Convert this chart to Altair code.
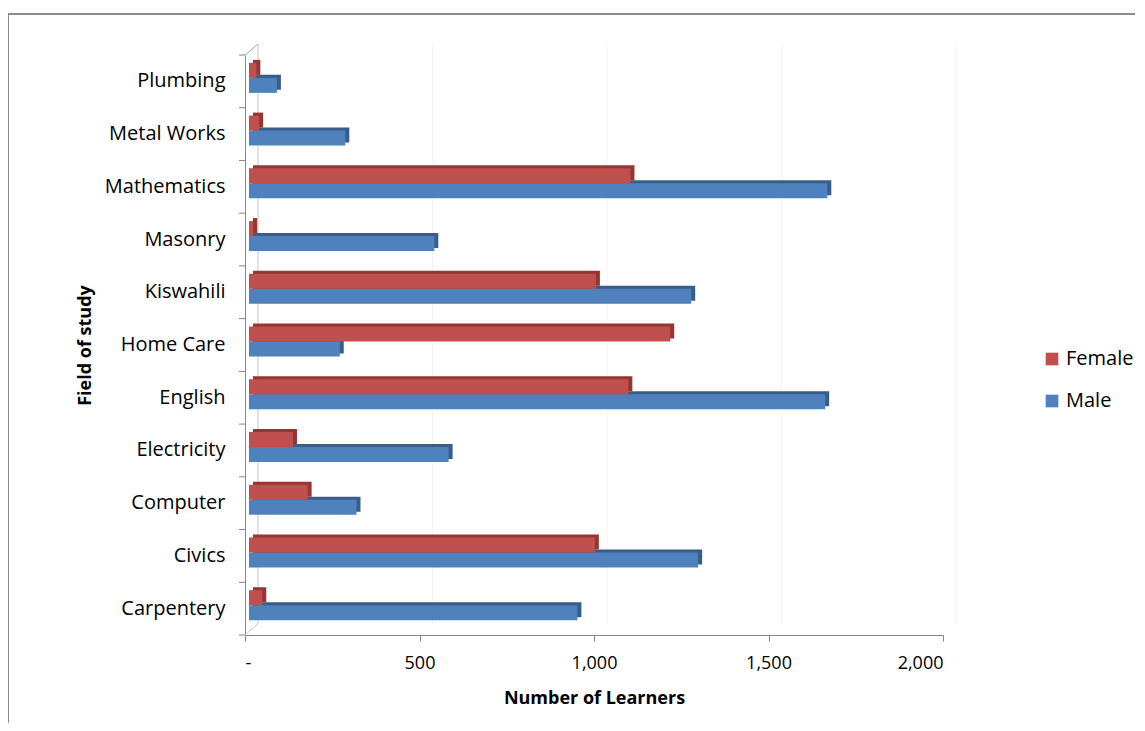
import altair as alt
import pandas as pd

categories = ["Plumbing", "Metal Works", "Mathematics", "Masonry", "Kiswahili",
              "Home Care", "English", "Electricity", "Computer", "Civics", "Carpentery"]
female = [21, 29, 1093, 12, 994, 1207, 1087, 126, 168, 991, 38]
male = [80, 276, 1657, 531, 1267, 260, 1651, 572, 308, 1287, 941]
x_ticks = [0, 500, 1000, 1500, 2000]
genders = ["Female", "Male"]

rows = []
for c, f, m in zip(categories, female, male):
    rows.append({"field": c, "gender": "Female", "learners": f})
    rows.append({"field": c, "gender": "Male", "learners": m})
df = pd.DataFrame(rows)
ticks_df = pd.DataFrame({"v": x_ticks})
cat_df = pd.DataFrame({"field": categories})
one = pd.DataFrame({"a": [0]})

FONT = "Open Sans"
W, H = 698, 580
AX = "#868686"

xscale = alt.Scale(domain=[0, 2000], nice=False, zero=True)
yscale = alt.Scale(domain=categories, paddingInner=0, paddingOuter=0)
color_scale = alt.Scale(domain=genders, range=["#C0504D", "#4F81BD"])
dark = {"Female": "#943634", "Male": "#385D8A"}

x_axis = alt.Axis(values=x_ticks, title="Number of Learners",
                  labelExpr="datum.value == 0 ? '-' : format(datum.value, ',')",
                  grid=False, domainColor=AX, tickColor=AX, tickSize=6,
                  labelFont=FONT, labelFontSize=18, labelColor="#000000", labelPadding=13,
                  titleFont=FONT, titleFontSize=18, titleFontWeight="bold", titleColor="#000000",
                  titleX=349, titleY=63, titleBaseline="middle")
y_axis = alt.Axis(title="Field of study", ticks=False, grid=False, domainColor=AX,
                  labelFont=FONT, labelFontSize=20, labelColor="#000000", labelPadding=20,
                  titleFont=FONT, titleFontSize=18, titleFontWeight="bold", titleColor="#000000",
                  titleX=-160, titleY=290, titleAngle=-90, titleAlign="center",
                  titleBaseline="middle")
legend = alt.Legend(title=None, orient="none", legendX=797, legendY=294,
                    symbolType="square", symbolSize=160, symbolStrokeWidth=0,
                    labelFont=FONT, labelFontSize=20, labelColor="#000000",
                    rowPadding=22, labelOffset=4, padding=0)


def bars(g, front):
    sub = df[df.gender == g]
    yo = -11 if g == "Female" else 4
    if front:
        mk = alt.Chart(sub).mark_bar(height=15, xOffset=4, x2Offset=4, yOffset=yo)
        col = alt.Color("gender:N", scale=color_scale, legend=legend)
    else:
        mk = alt.Chart(sub).mark_bar(height=15, xOffset=8, x2Offset=8, yOffset=yo - 3)
        col = alt.value(dark[g])
    return mk.encode(
        x=alt.X("learners:Q", scale=xscale, axis=x_axis),
        y=alt.Y("field:N", scale=yscale, axis=y_axis, sort=categories),
        color=col,
    )


grid = alt.Chart(ticks_df[ticks_df.v > 0]).mark_rule(color="#f4f4f4", xOffset=13).encode(
    x=alt.X("v:Q", scale=xscale, axis=x_axis),
    y=alt.value(-11), y2=alt.value(H - 11))

back_wall = alt.Chart(one).mark_rule(color="#c4c4c4").encode(
    x=alt.value(13), y=alt.value(-11), y2=alt.value(H - 11))
top_diag = alt.Chart(one).mark_rule(color="#a0a0a0").encode(
    x=alt.value(0), y=alt.value(0), x2=alt.value(13), y2=alt.value(-11))
bot_diag = alt.Chart(one).mark_rule(color="#c4c4c4").encode(
    x=alt.value(0), y=alt.value(H), x2=alt.value(13), y2=alt.value(H - 11))

y_ticks = alt.Chart(cat_df).mark_rule(color=AX).encode(
    y=alt.Y("field:N", scale=yscale, axis=y_axis, sort=categories, bandPosition=0),
    x=alt.value(-6), x2=alt.value(0))
y_tick_end = alt.Chart(one).mark_rule(color=AX).encode(
    y=alt.value(H), x=alt.value(-6), x2=alt.value(0))

frame_top = alt.Chart(one).mark_rule(color="#8c8c8c", strokeWidth=2).encode(
    x=alt.value(-237), x2=alt.value(960), y=alt.value(-41))
frame_left = alt.Chart(one).mark_rule(color="#8c8c8c", strokeWidth=2).encode(
    x=alt.value(-237), y=alt.value(-41), y2=alt.value(700))

chart = alt.layer(
    frame_top, frame_left, grid, back_wall, top_diag, bot_diag,
    bars("Male", False), bars("Male", True),
    bars("Female", False), bars("Female", True),
    y_ticks, y_tick_end,
).properties(
    width=W, height=H,
    autosize=alt.AutoSizeParams(type="none"),
    padding={"left": 237, "top": 47, "right": 192, "bottom": 88},
    background="white",
).configure_view(stroke=None)

chart.save("out.html", embed_options={"renderer": "svg", "actions": False})
